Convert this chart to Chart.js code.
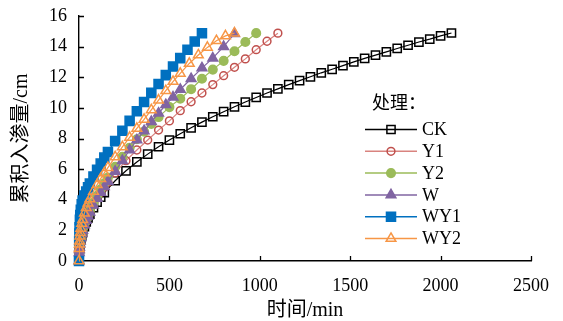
<!DOCTYPE html>
<html>
<head>
<meta charset="utf-8">
<script src="https://cdn.jsdelivr.net/npm/chart.js@4.4.0/dist/chart.umd.min.js"></script>
<style>
  html, body { margin: 0; padding: 0; background: #fff; }
  #wrap { width: 563px; height: 321px; }
</style>
</head>
<body>
<div id="wrap"><canvas id="chart" width="563" height="321"></canvas></div>
<script>
// time (min) and cumulative infiltration (cm)
var seriesNames = ['CK', 'Y1', 'Y2', 'W', 'WY1', 'WY2'];

var tCK = [0, 1, 2, 3, 5, 7, 10, 15, 20, 30, 40, 50, 60, 80, 100, 120, 140,
    200, 260, 320, 380, 440, 500, 560, 620, 680, 740, 800, 860, 920, 980, 1040, 1100,
    1160, 1220, 1280, 1340, 1400, 1460, 1520, 1580, 1640, 1700, 1760, 1820, 1880, 1940, 2000, 2060];
var vCK = [0, 0.49, 0.67, 0.80, 1.00, 1.17, 1.37, 1.64, 1.87, 2.24, 2.55, 2.82, 3.06, 3.48, 3.84, 4.17, 4.47,
    5.24, 5.89, 6.47, 6.98, 7.46, 7.90, 8.31, 8.70, 9.07, 9.42, 9.75, 10.07, 10.38, 10.68, 10.97, 11.24,
    11.52, 11.78, 12.03, 12.29, 12.52, 12.76, 13.00, 13.23, 13.44, 13.66, 13.88, 14.09, 14.30, 14.49, 14.70, 14.89];

var tY1 = [0, 1, 2, 3, 5, 7, 10, 15, 20, 30, 40, 50, 60, 80, 100, 120, 140, 160,
    200, 260, 320, 380, 440, 500, 560, 620, 680, 740, 800, 860, 920, 980, 1040, 1100];
var vY1 = [0, 0.5, 0.7, 0.85, 1.05, 1.22, 1.42, 1.68, 1.9, 2.28, 2.62, 2.93, 3.2, 3.68, 4.1, 4.48, 4.82, 5.15,
    5.75, 6.55, 7.25, 7.9, 8.55, 9.15, 9.82, 10.4, 10.97, 11.52, 12.1, 12.65, 13.2, 13.8, 14.35, 14.88];

var tY2 = [0, 1, 2, 3, 5, 7, 10, 15, 20, 30, 40, 50, 60, 80, 100, 120, 140, 160,
    200, 240, 280, 320, 360, 400, 440, 500, 560, 620, 680, 740, 800, 860, 920, 980];
var vY2 = [0, 0.52, 0.72, 0.88, 1.1, 1.28, 1.5, 1.8, 2.02, 2.4, 2.72, 3.02, 3.3, 3.8, 4.25, 4.68, 5.08, 5.45,
    6.15, 6.8, 7.4, 7.95, 8.45, 8.95, 9.4, 10.05, 10.6, 11.22, 11.9, 12.5, 13.07, 13.7, 14.3, 14.88];

var tW = [0, 1, 2, 3, 5, 7, 10, 15, 20, 30, 40, 50, 60, 80, 100, 120, 140, 160,
    200, 240, 280, 320, 360, 400, 440, 480, 520, 560, 620, 680, 740, 800, 860];
var vW = [0, 0.54, 0.74, 0.9, 1.12, 1.3, 1.5, 1.78, 2.0, 2.35, 2.65, 2.92, 3.18, 3.65, 4.08, 4.48, 4.85, 5.2,
    5.85, 6.55, 7.25, 7.9, 8.5, 9.1, 9.65, 10.2, 10.7, 11.2, 11.9, 12.6, 13.25, 14.0, 14.85];

var tWY1 = [0, 1, 2, 3, 5, 7, 10, 15, 20, 30, 40, 50, 60, 80, 100, 120, 140, 160,
    200, 240, 280, 320, 360, 400, 440, 480, 520, 560, 600, 640, 680];
var vWY1 = [0, 1.3, 1.8, 2.2, 2.7, 3.0, 3.35, 3.7, 3.95, 4.28, 4.54, 4.81, 5.06, 5.52, 5.96, 6.36, 6.75, 7.12,
    7.83, 8.51, 9.15, 9.78, 10.39, 10.98, 11.56, 12.14, 12.70, 13.25, 13.80, 14.33, 14.87];

var tWY2 = [0, 1, 2, 3, 5, 7, 10, 15, 20, 30, 40, 50, 60, 80, 100, 120, 140, 160,
    200, 240, 280, 320, 360, 400, 440, 480, 520, 560, 610, 660, 710, 760, 810, 860];
var vWY2 = [0, 0.8, 1.1, 1.3, 1.62, 1.85, 2.12, 2.45, 2.7, 3.12, 3.48, 3.78, 4.05, 4.55, 4.98, 5.38, 5.75, 6.1,
    6.8, 7.45, 8.07, 8.66, 9.25, 9.87, 10.5, 11.12, 11.72, 12.25, 12.9, 13.45, 13.95, 14.38, 14.7, 14.88];

var SERIF = "'Liberation Serif', 'Noto Sans CJK SC', serif";

function pts(t, v) {
    return t.map(function(x, i) { return { x: x, y: v[i] }; });
}

// one entry per series: data + marker look (Excel-style)
var styles = [
    { t: tCK,  v: vCK,  color: '#000000', line: '#000000', shape: 'rect',     r: 5.8, fill: false },
    { t: tY1,  v: vY1,  color: '#C0504D', line: '#D9837F', shape: 'circle',   r: 3.9, fill: false },
    { t: tY2,  v: vY2,  color: '#9BBB59', line: '#9BBB59', shape: 'circle',   r: 4.3, fill: true },
    { t: tW,   v: vW,   color: '#8064A2', line: '#8064A2', shape: 'triangle', r: 5.6, fill: true },
    { t: tWY1, v: vWY1, color: '#0070C0', line: '#0070C0', shape: 'rect',     r: 6.4, fill: true },
    { t: tWY2, v: vWY2, color: '#F79646', line: '#F79646', shape: 'triangle', r: 5.6, fill: false }
];

var datasets = styles.map(function(s, i) {
    return {
        label: seriesNames[i],
        data: pts(s.t, s.v),
        showLine: true,
        borderColor: s.line,
        borderWidth: 1.2,
        pointStyle: s.shape,
        pointRadius: s.r,
        pointBorderWidth: 1.5,
        pointBorderColor: s.color,
        pointBackgroundColor: s.fill ? s.color : 'rgba(0,0,0,0)',
        clip: false,
        order: styles.length - i
    };
});

// tick marks pointing into the plot, like the original
var innerTicks = {
    id: 'innerTicks',
    beforeDatasetsDraw: function(chart) {
        var ctx = chart.ctx, a = chart.chartArea;
        var xs = chart.scales.x, ys = chart.scales.y;
        ctx.save();
        ctx.strokeStyle = '#000';
        ctx.lineWidth = 1.3;
        ctx.beginPath();
        xs.ticks.forEach(function(t) {
            var px = Math.round(xs.getPixelForValue(t.value)) + 0.5;
            ctx.moveTo(px, a.bottom);
            ctx.lineTo(px, a.bottom - 5);
        });
        ys.ticks.forEach(function(t) {
            var py = Math.round(ys.getPixelForValue(t.value)) + 0.5;
            ctx.moveTo(a.left, py);
            ctx.lineTo(a.left + 5, py);
        });
        ctx.stroke();
        ctx.restore();
    }
};

// legend inside the plot: title + line with marker in the middle
var innerLegend = {
    id: 'innerLegend',
    afterDraw: function(chart) {
        var ctx = chart.ctx;
        var x0 = 365, x1 = 417, y0 = 129.5, step = 21.8;
        ctx.save();
        ctx.font = '18px ' + SERIF;
        ctx.fillStyle = '#000';
        ctx.textBaseline = 'middle';
        ctx.textAlign = 'left';
        ctx.fillText('处理：', 372, 104);
        chart.data.datasets.forEach(function(ds, i) {
            var y = y0 + i * step;
            ctx.strokeStyle = ds.borderColor;
            ctx.lineWidth = 1.5;
            ctx.beginPath();
            ctx.moveTo(x0, y);
            ctx.lineTo(x1, y);
            ctx.stroke();
            ctx.strokeStyle = ds.pointBorderColor;
            ctx.fillStyle = ds.pointBackgroundColor;
            ctx.lineWidth = ds.pointBorderWidth;
            Chart.helpers.drawPoint(ctx, {
                pointStyle: ds.pointStyle,
                radius: ds.pointRadius,
                borderWidth: ds.pointBorderWidth,
                rotation: 0
            }, (x0 + x1) / 2, y);
            ctx.fillStyle = '#000';
            ctx.fillText(ds.label, 422, y + 1);
        });
        ctx.restore();
    }
};

new Chart(document.getElementById('chart'), {
    type: 'scatter',
    data: { datasets: datasets },
    options: {
        responsive: false,
        animation: false,
        devicePixelRatio: 1,
        layout: { padding: { top: 16, right: 31, left: 0, bottom: 0 } },
        plugins: {
            legend: { display: false },
            tooltip: { enabled: false }
        },
        scales: {
            x: {
                type: 'linear',
                min: 0,
                max: 2500,
                ticks: {
                    stepSize: 500, color: '#000', padding: 14,
                    font: { family: SERIF, size: 18 },
                    callback: function(v) { return String(v); }
                },
                grid: { display: false, drawTicks: false },
                border: { display: true, color: '#000', width: 1.4 },
                title: {
                    display: true, text: '时间/min', color: '#000',
                    font: { family: SERIF, size: 20, lineHeight: 1 },
                    padding: { top: 0, bottom: 0 }
                },
                afterFit: function(scale) { scale.height = 60; }
            },
            y: {
                type: 'linear',
                min: 0,
                max: 16,
                ticks: { stepSize: 2, color: '#000', padding: 12, font: { family: SERIF, size: 18 } },
                grid: { display: false, drawTicks: false },
                border: { display: true, color: '#000', width: 1.4 },
                title: {
                    display: true, text: '累积入渗量/cm', color: '#000',
                    font: { family: SERIF, size: 20, lineHeight: 1 },
                    padding: { top: 12, bottom: 0 }
                },
                afterFit: function(scale) {
                    scale.width = 79;
                    // only keep room for half a label above/below, not the label padding
                    scale.paddingTop = 11;
                    scale.paddingBottom = 11;
                }
            }
        }
    },
    plugins: [innerTicks, innerLegend]
});
</script>
</body>
</html>
